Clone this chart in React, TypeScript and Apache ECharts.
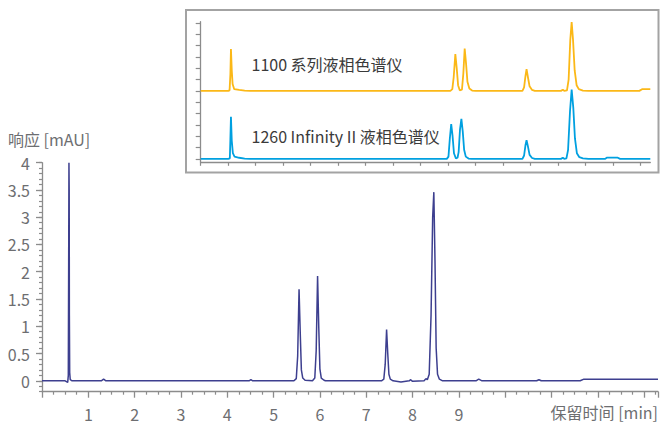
import React, { useEffect, useRef } from "react";
import * as echarts from "echarts";

const FONT = '"Noto Sans CJK SC", "Noto Sans", sans-serif';
const TEXT_COLOR = "#6d6e71";
const AXIS_COLOR = "#8c8c8c";
const MAIN_COLOR = "#3d3f8f";
const COLOR_1100 = "#fbb817";
const COLOR_1260 = "#00a0e0";

const yAxisTitle = "响应 [mAU]";
const xAxisTitle = "保留时间 [min]";
const insetLabel1100 = "1100 系列液相色谱仪";
const insetLabel1260 = "1260 Infinity II 液相色谱仪";

const xTickLabels = [1, 2, 3, 4, 5, 6, 7, 8, 9];
const yTickLabels = [0, 0.5, 1, 1.5, 2, 2.5, 3, 3.5, 4];
const insetXTicks = [0, 1, 2, 3, 4, 5, 6, 7, 8, 9, 10, 11, 12, 13, 14, 15, 16];
const insetYTicks = [0, 1, 2, 3, 4, 5, 6, 7, 8, 9, 10, 11, 12];

// main chromatogram: [retention time (min), response (mAU)]
const mainTrace: [number, number][] = [
  [0, 0.0], [0.5, 0.0], [0.555, -0.03], [0.568, 0.1], [0.576, 2.2], [0.582, 4.0],
  [0.587, 3.5], [0.591, 1.2], [0.598, 0.15], [0.61, 0.02], [0.65, 0.0],
  [1.28, 0.0], [1.33, 0.03], [1.38, 0.0],
  [4.47, 0.0], [4.51, 0.02], [4.55, 0.0],
  [5.44, 0.0], [5.49, 0.04], [5.52, 0.45], [5.55, 1.68], [5.575, 0.9], [5.6, 0.2],
  [5.63, 0.05], [5.68, 0.01], [5.84, 0.0], [5.89, 0.05], [5.92, 0.55], [5.95, 1.92],
  [5.975, 1.0], [6.0, 0.22], [6.03, 0.05], [6.09, 0.01], [6.12, 0.0],
  [7.33, 0.0], [7.38, 0.03], [7.41, 0.3], [7.44, 0.94], [7.465, 0.5], [7.49, 0.12],
  [7.52, 0.03], [7.58, 0.0], [7.75, -0.02], [7.93, 0.0], [7.96, 0.02], [8.0, -0.01],
  [8.25, 0.0], [8.29, 0.04], [8.32, 0.02], [8.36, 0.12], [8.4, 1.2], [8.435, 3.0],
  [8.46, 3.46], [8.485, 2.2], [8.51, 0.6], [8.54, 0.12], [8.58, 0.03], [8.65, 0.0],
  [9.37, 0.0], [9.43, 0.03], [9.5, 0.0],
  [10.68, 0.0], [10.73, 0.02], [10.78, 0.0],
  [11.62, 0.0], [11.7, 0.03], [13.3, 0.03],
];

// inset traces (relative units; 1100 trace offset by 6)
const inset1100: [number, number][] = [
  [0, 6.0], [1.0, 6.0], [1.05, 6.05], [1.08, 7.5], [1.1, 9.68], [1.13, 7.8], [1.16, 6.6],
  [1.22, 6.15], [1.4, 6.08], [1.6, 6.02], [1.8, 6.0],
  [9.08, 6.0], [9.15, 6.15], [9.2, 7.2], [9.26, 9.24], [9.31, 8.0], [9.36, 6.5], [9.42, 6.05],
  [9.5, 6.1], [9.55, 7.5], [9.6, 9.74], [9.65, 8.4], [9.7, 6.8], [9.77, 6.2], [9.87, 6.03], [10.0, 6.0],
  [11.7, 6.0], [11.76, 6.3], [11.81, 7.3], [11.85, 7.92], [11.9, 7.2], [11.96, 6.4], [12.05, 6.08], [12.15, 6.0],
  [13.1, 6.0], [13.17, 6.1], [13.22, 6.0], [13.32, 6.05], [13.38, 7.0], [13.44, 10.5], [13.49, 12.07],
  [13.54, 10.5], [13.6, 7.8], [13.67, 6.5], [13.75, 6.15], [13.9, 6.03], [14.1, 6.0],
  [15.95, 6.0], [16.05, 6.15], [16.35, 6.15],
];

const inset1260: [number, number][] = [
  [0, 0.0], [1.0, 0.0], [1.06, 0.05], [1.08, 1.8], [1.1, 3.71], [1.13, 1.6], [1.17, 0.5],
  [1.23, 0.2], [1.4, 0.1], [1.6, 0.03], [1.8, 0.0],
  [8.95, 0.0], [9.01, 0.2], [9.06, 1.8], [9.11, 3.06], [9.16, 2.0], [9.21, 0.5], [9.28, 0.05],
  [9.34, 0.1], [9.38, 0.6], [9.43, 2.6], [9.48, 3.53], [9.53, 2.4], [9.58, 0.8], [9.64, 0.2],
  [9.74, 0.03], [9.85, 0.0],
  [11.7, 0.0], [11.76, 0.3], [11.81, 1.2], [11.85, 1.65], [11.9, 1.1], [11.96, 0.35], [12.05, 0.08], [12.15, 0.0],
  [13.1, 0.0], [13.17, 0.1], [13.22, 0.0], [13.3, 0.05], [13.36, 0.8], [13.43, 4.2], [13.49, 6.12],
  [13.55, 4.5], [13.61, 1.8], [13.68, 0.5], [13.77, 0.15], [13.9, 0.05], [14.1, 0.0],
  [14.7, 0.0], [14.78, 0.12], [15.15, 0.12], [15.25, 0.0], [16.35, 0.0],
];

export default function App() {
  const ref = useRef<HTMLDivElement>(null);
  useEffect(() => {
    if (!ref.current) return;
    const chart = echarts.init(ref.current, undefined, { renderer: "svg" });
    const axisLine = { show: true, onZero: false, lineStyle: { color: AXIS_COLOR, width: 1.3 } };
    const labelStyle = { color: TEXT_COLOR, fontSize: 16, fontFamily: FONT };
    chart.setOption({
      animation: false,
      backgroundColor: "#ffffff",
      grid: [
        { left: 42, top: 162.7, width: 616, height: 229, containLabel: false, outerBoundsMode: "none" },
        { left: 200.7, top: 21.7, width: 449.6, height: 140.6, containLabel: false, outerBoundsMode: "none" },
      ],
      xAxis: [
        {
          gridIndex: 0, type: "value", min: 0, max: 13.3, interval: 1, position: "bottom",
          axisLine,
          axisTick: { show: true, length: 6, lineStyle: { color: AXIS_COLOR, width: 1.3 } },
          minorTick: { show: true, splitNumber: 4, length: 3, lineStyle: { color: AXIS_COLOR, width: 1.2 } },
          axisLabel: { ...labelStyle, customValues: xTickLabels, margin: 14 },
          splitLine: { show: false },
        },
        {
          gridIndex: 1, type: "value", min: 0, max: 16.35, interval: 1, position: "bottom",
          axisLine,
          axisTick: { show: true, customValues: insetXTicks, length: 3.5, lineStyle: { color: AXIS_COLOR, width: 1.2 } },
          axisLabel: { show: false },
          splitLine: { show: false },
        },
      ],
      yAxis: [
        {
          gridIndex: 0, type: "value", min: -0.2, max: 4, interval: 0.1, position: "left",
          axisLine,
          axisTick: { show: true, length: 3, lineStyle: { color: AXIS_COLOR, width: 1.2 } },
          axisLabel: { ...labelStyle, customValues: yTickLabels, margin: 12 },
          splitLine: { show: false },
        },
        {
          gridIndex: 0, type: "value", min: -0.2, max: 4, interval: 0.1, position: "left",
          axisLine: { show: false },
          axisTick: { show: true, customValues: yTickLabels, length: 6, lineStyle: { color: AXIS_COLOR, width: 1.3 } },
          axisLabel: { show: false },
          splitLine: { show: false },
        },
        {
          gridIndex: 1, type: "value", min: -0.3, max: 12.1, interval: 1, position: "left",
          axisLine,
          axisTick: { show: true, customValues: insetYTicks, length: 5, lineStyle: { color: AXIS_COLOR, width: 1.2 } },
          axisLabel: { show: false },
          splitLine: { show: false },
        },
      ],
      graphic: [
        {
          type: "rect", z: -10, silent: true,
          shape: { x: 186, y: 10, width: 472.5, height: 162.5 },
          style: { fill: "#ffffff", stroke: "#a3a3a3", lineWidth: 2 },
        },
        {
          type: "text", left: 8, top: 131,
          style: { text: yAxisTitle, fill: TEXT_COLOR, fontSize: 16, fontFamily: FONT },
        },
        {
          type: "text", right: 4, top: 404,
          style: { text: xAxisTitle, fill: TEXT_COLOR, fontSize: 16, fontFamily: FONT },
        },
        {
          type: "text", left: 251.5, top: 56,
          style: { text: insetLabel1100, fill: "#3a3a3a", fontSize: 16, fontFamily: FONT },
        },
        {
          type: "text", left: 251.5, top: 127.5,
          style: { text: insetLabel1260, fill: "#3a3a3a", fontSize: 16, fontFamily: FONT },
        },
      ],
      series: [
        {
          type: "line", name: "main", xAxisIndex: 0, yAxisIndex: 0, data: mainTrace,
          showSymbol: false, symbol: "none", smooth: false,
          lineStyle: { color: MAIN_COLOR, width: 1.5 }, z: 3,
        },
        {
          type: "line", name: "1100", xAxisIndex: 1, yAxisIndex: 2, data: inset1100,
          showSymbol: false, symbol: "none",
          lineStyle: { color: COLOR_1100, width: 1.8 }, z: 3,
        },
        {
          type: "line", name: "1260", xAxisIndex: 1, yAxisIndex: 2, data: inset1260,
          showSymbol: false, symbol: "none",
          lineStyle: { color: COLOR_1260, width: 1.8 }, z: 3,
        },
      ],
    });
    return () => chart.dispose();
  }, []);
  return (
    <div
      ref={ref}
      style={{ position: "absolute", left: 0, top: 0, width: 662, height: 425 }}
    />
  );
}
